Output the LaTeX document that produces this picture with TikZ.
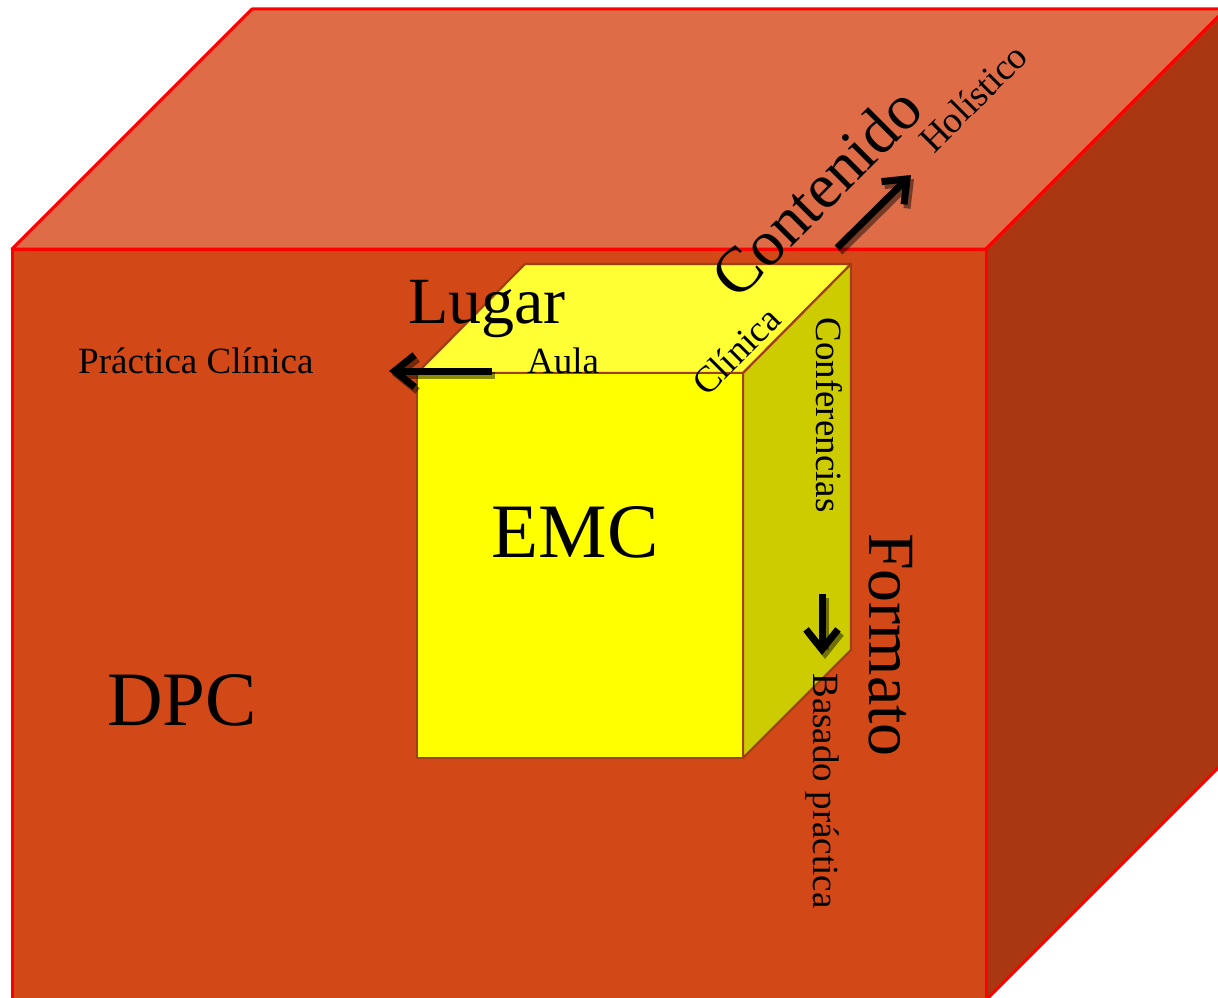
\documentclass[tikz,border=0pt]{standalone}
\usepackage{fontspec}
\setmainfont{Liberation Serif}
\usetikzlibrary{arrows.meta}
\definecolor{bigtop}{RGB}{221,108,71}
\definecolor{bigfront}{RGB}{210,73,23}
\definecolor{bigright}{RGB}{169,56,18}
\definecolor{bigline}{RGB}{255,0,0}
\definecolor{smtop}{RGB}{255,255,51}
\definecolor{smfront}{RGB}{255,255,0}
\definecolor{smright}{RGB}{204,204,0}
\definecolor{smline}{RGB}{160,64,16}
\tikzset{
  bigface/.style={draw=bigline,line width=3pt,line join=round},
  smface/.style={draw=smline,line width=2.2pt,line join=round},
  lbl/.style={inner sep=0pt,text=black},
  small/.style={lbl,font=\fontsize{37}{44}\selectfont},
  large/.style={lbl,font=\fontsize{66}{78}\selectfont},
  huge/.style={lbl,font=\fontsize{77}{90}\selectfont},
  arr/.style={line width=7pt,draw=black,-{Straight Barb[length=20pt,width=32pt]}},
  arrshadow/.style={arr,draw=black,draw opacity=0.45}
}
\begin{document}
\begin{tikzpicture}[x=1pt,y=-1pt]
\useasboundingbox (0,0) rectangle (1218,998);
\clip (0,0) rectangle (1218,998);
% big cube
\filldraw[bigface,fill=bigtop] (12,249) -- (252,9) -- (1226,9) -- (986,249) -- cycle;
\filldraw[bigface,fill=bigright] (986,249) -- (1226,9) -- (1226,760) -- (986,1000) -- cycle;
\filldraw[bigface,fill=bigfront] (12,249) rectangle (986,1000);
% small cube
\filldraw[smface,fill=smtop] (417,373) -- (525,264) -- (851,264) -- (743,373) -- cycle;
\filldraw[smface,fill=smright] (743,373) -- (851,264) -- (851,650) -- (743,758) -- cycle;
\filldraw[smface,fill=smfront] (417,373) rectangle (743,758);
% labels
\node[small,anchor=base west] (pc) at (78,373) {Práctica Clínica};
\node[large,anchor=base west] (lugar) at (408,323) {Lugar};
\node[small,anchor=base west] (aula) at (527,373) {Aula};
\node[huge,anchor=base] (emc) at (575,557) {EMC};
\node[huge,anchor=base west] (dpc) at (107,725) {DPC};
\node[large,rotate=45,font=\fontsize{64}{76}\selectfont] (cont) at (816,192) {Contenido};
\node[small,rotate=45] (hol) at (973,98) {Holístico};
\node[small,rotate=45] (clin) at (736,351) {Clínica};
\node[small,rotate=-90] (conf) at (829,415) {Conferencias};
\node[large,rotate=-90] (form) at (891,645) {Formato};
\node[small,rotate=-90] (bas) at (822,791) {Basado práctica};
% arrows
\coordinate (la1) at (492,371); \coordinate (la2) at (389,371);
\coordinate (ca1) at (837,248); \coordinate (ca2) at (911,175);
\coordinate (fa1) at (822,594); \coordinate (fa2) at (822,655);
\draw[arrshadow] ([shift={(3,4)}]la1) -- ([shift={(3,4)}]la2);
\draw[arrshadow] ([shift={(3,4)}]ca1) -- ([shift={(3,4)}]ca2);
\draw[arrshadow] ([shift={(3,4)}]fa1) -- ([shift={(3,4)}]fa2);
\draw[arr] (la1) -- (la2);
\draw[arr] (ca1) -- (ca2);
\draw[arr] (fa1) -- (fa2);
\end{tikzpicture}
\end{document}
